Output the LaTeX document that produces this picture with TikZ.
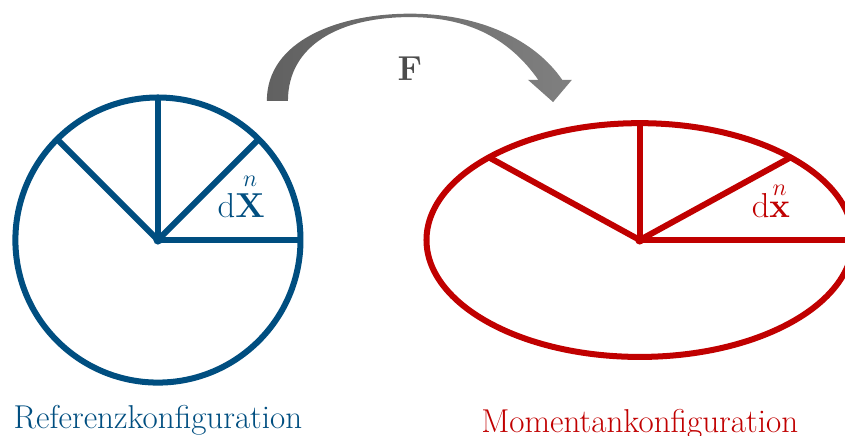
\documentclass[tikz,border=0pt]{standalone}
\usepackage{amsmath, amssymb}
\usepackage{xcolor}
\usepackage{tikz}
\usetikzlibrary{calc, positioning}

\definecolor{refblau}{RGB}{0,78,128}
\definecolor{momrot}{RGB}{192,0,0}

\begin{document}
\begin{tikzpicture}[line width=3pt, font=\fontsize{16.5}{20}\selectfont]
    % Rahmen
    \useasboundingbox (-2.77,-3.42) rectangle (12.05,4.21);
    \clip (-2.77,-3.42) rectangle (12.05,4.21);
    \coordinate (R) at (0,0);
    \coordinate (M) at (8.45,0);

    % Referenzkonfiguration
    \draw[refblau] (R) circle (2.5);
    \foreach \w in {0,45,90,135} {
        \draw[refblau] (R) -- ++(\w:2.5);
    }
    \fill[refblau] (R) circle (0.08);
    \node[refblau, anchor=base] (dX) at (1.46,0.40) {$\mathrm{d}\overset{n}{\mathbf{X}}$};
    \node[refblau, anchor=base] (ref) at (0,-3.30) {Referenzkonfiguration};

    % Momentankonfiguration
    \draw[momrot] (M) ellipse (3.74 and 2.05);
    \foreach \w in {0,45,90,135} {
        \draw[momrot] (M) -- ++({3.74*cos(\w)},{2.05*sin(\w)});
    }
    \fill[momrot] (M) circle (0.08);
    \node[momrot, anchor=base] (dx) at (10.75,0.40) {$\mathrm{d}\overset{n}{\mathbf{x}}$};
    \node[momrot, anchor=base] (mom) at (8.45,-3.37) {Momentankonfiguration};

    % Abbildung F
    \shade[left color=black!62, right color=black!50]
        (1.91,2.44) .. controls (1.91,3.51) and (3.19,3.97) .. (4.42,3.97)
        .. controls (5.65,3.97) and (6.61,3.51) .. (7.09,2.81)
        -- (7.26,2.81) -- (6.93,2.42) -- (6.49,2.81) -- (6.67,2.81)
        .. controls (6.18,3.51) and (5.47,3.91) .. (4.42,3.91)
        .. controls (3.19,3.91) and (2.28,3.42) .. (2.28,2.44) -- cycle;
    \node[black!70] (F) at (4.42,3.0) {$\mathbf{F}$};
\end{tikzpicture}
\end{document}
